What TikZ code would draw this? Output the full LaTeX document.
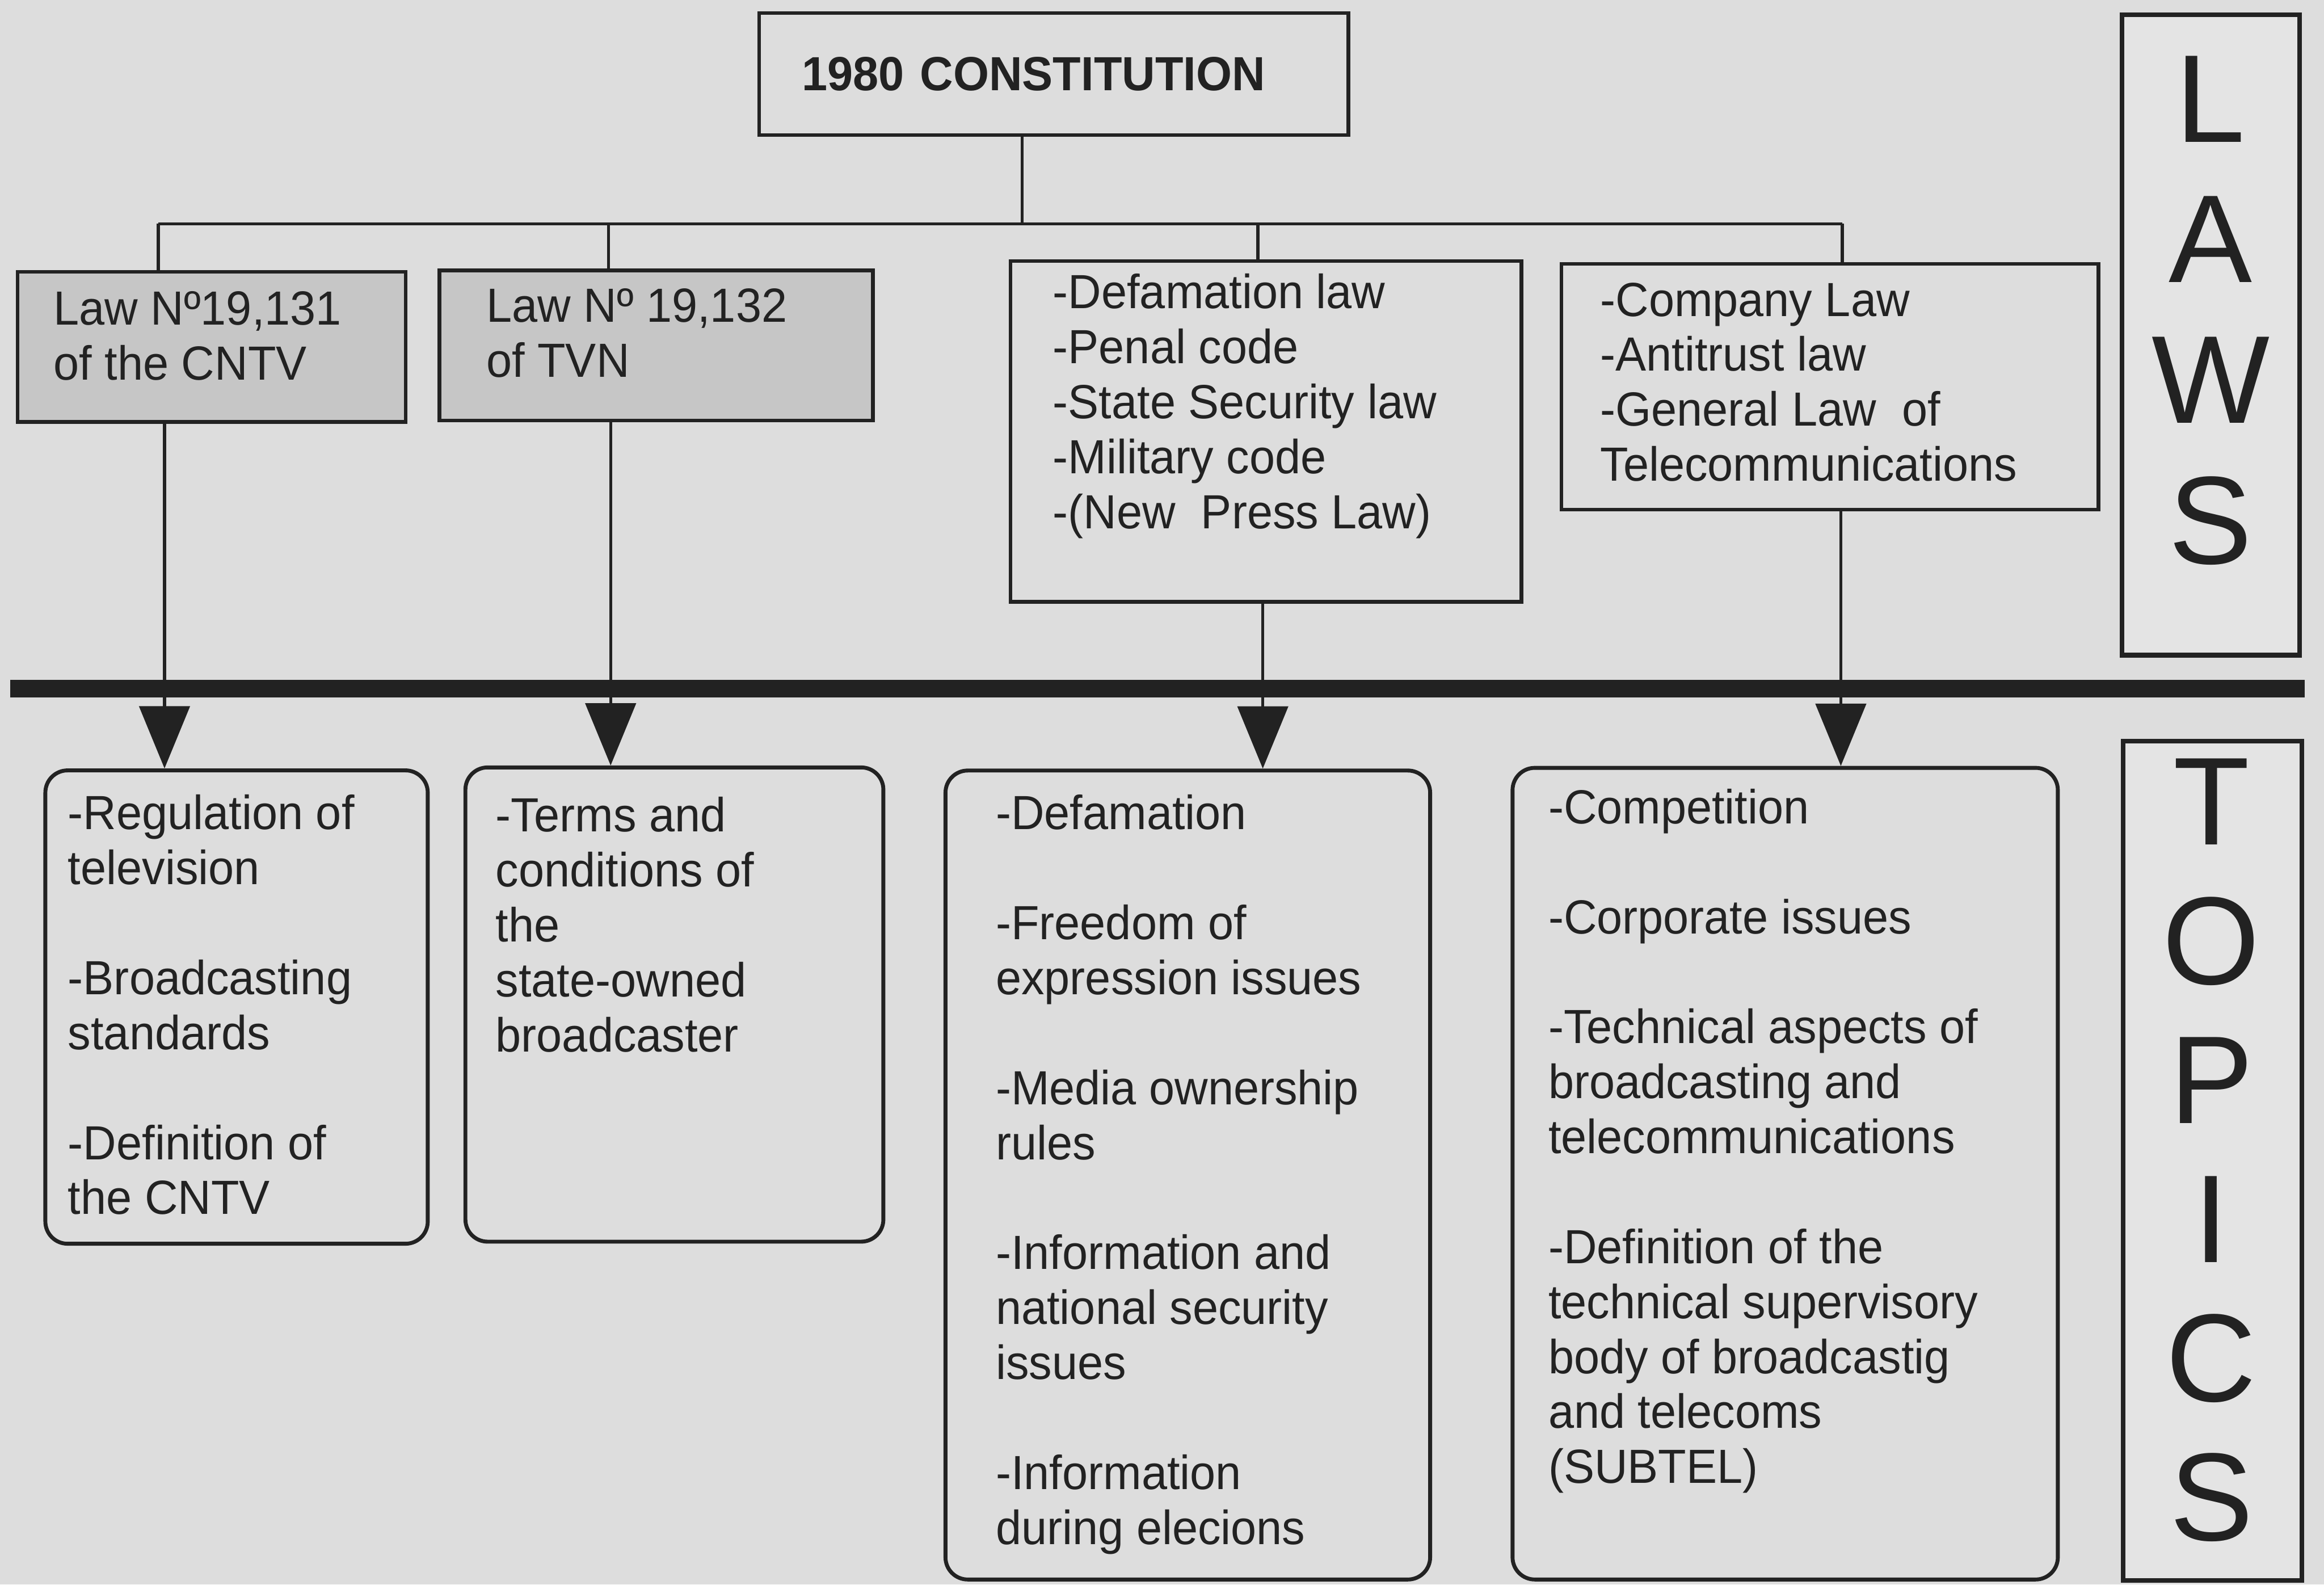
\documentclass[tikz,border=0pt]{standalone}
\usepackage{fontspec}
\setmainfont{Liberation Sans}
\newfontfamily\boxfont[FakeStretch=0.96]{Liberation Sans}
\usetikzlibrary{arrows.meta}
\definecolor{ChartBack}{HTML}{DDDDDD}
\definecolor{LawShade}{HTML}{C6C6C6}
\definecolor{TabShade}{HTML}{E4E4E4}
\definecolor{Ink}{HTML}{222222}

\begin{document}
\begin{tikzpicture}[x=1cm,y=1cm,
  lawbox/.style={draw=Ink,line width=0.7pt,inner sep=0pt},
  topicbox/.style={draw=Ink,line width=0.75pt,rounded corners=0.15cm,inner sep=0pt},
  tabbox/.style={draw=Ink,line width=0.9pt,fill=TabShade,inner sep=0pt},
  boxtext/.style={anchor=north west,align=left,inner sep=0pt,text=Ink,font=\boxfont\fontsize{9.2pt}{10.55pt}\selectfont},
  tabtext/.style={align=center,inner sep=0pt,text=Ink},
  link/.style={draw=Ink,line width=0.6pt},
  arrowlink/.style={link,-{Triangle[width=0.34cm,length=0.42cm]}}]
\fill[ChartBack] (0,0) rectangle (15.68,10.69);
\path[use as bounding box] (0,0) rectangle (15.68,10.69);
\node[lawbox,minimum width=3.975cm,minimum height=0.823cm,text width=3.4cm,align=left,inner xsep=0.28cm,text=Ink,font=\boxfont\bfseries\fontsize{9.2pt}{11pt}\selectfont] (const) at (7.11,10.19) {1980 CONSTITUTION};
\node[lawbox,fill=LawShade,minimum width=2.619cm,minimum height=1.012cm] (lcntv) at (1.4275,8.35) {};
\node[boxtext] (lcntvtxt) at (0.355,8.73) {Law Nº19,131\\of the CNTV};
\node[lawbox,fill=LawShade,minimum width=2.925cm,minimum height=1.012cm] (ltvn) at (4.4275,8.359) {};
\node[boxtext] (ltvntxt) at (3.275,8.75) {Law Nº 19,132\\of TVN};
\node[lawbox,minimum width=3.448cm,minimum height=2.298cm] (lpress) at (8.541,7.779) {};
\node[boxtext] (lpresstxt) at (7.097,8.85) {-Defamation law\\-Penal code\\-State Security law\\-Military code\\-(New\ \ Press Law)};
\node[lawbox,minimum width=3.624cm,minimum height=1.657cm] (lcomp) at (12.346,8.0815) {};
\node[boxtext] (lcomptxt) at (10.79,8.79) {-Company Law\\-Antitrust law\\-General Law\ \ of\\Telecommunications};
\node[tabbox,minimum width=1.199cm,minimum height=4.32cm] (laws) at (14.9155,8.43) {};
\node[tabtext,font=\fontsize{24pt}{27pt}\selectfont] (lawstxt) at (14.915,8.595) {L\\A\\W\\S};
\node[topicbox,minimum width=2.58cm,minimum height=3.193cm] (tcntv) at (1.596,3.8965) {};
\node[boxtext] (tcntvtxt) at (0.452,5.335) {-Regulation of\\television\\[10.55pt]-Broadcasting\\standards\\[10.55pt]-Definition of\\the CNTV};
\node[topicbox,minimum width=2.82cm,minimum height=3.199cm] (ttvn) at (4.55,3.9135) {};
\node[boxtext] (ttvntxt) at (3.338,5.32) {-Terms and\\conditions of\\the\\state-owned\\broadcaster};
\node[topicbox,minimum width=3.27cm,minimum height=5.457cm] (tpress) at (8.014,2.7635) {};
\node[boxtext] (tpresstxt) at (6.712,5.335) {-Defamation\\[10.55pt]-Freedom of\\expression issues\\[10.55pt]-Media ownership\\rules\\[10.55pt]-Information and\\national security\\issues\\[10.55pt]-Information\\during elecions};
\node[topicbox,minimum width=3.679cm,minimum height=5.475cm] (tcomp) at (12.0445,2.7725) {};
\node[boxtext] (tcomptxt) at (10.44,5.375) {-Competition\\[10.55pt]-Corporate issues\\[10.55pt]-Technical aspects of\\broadcasting and\\telecommunications\\[10.55pt]-Definition of the\\technical supervisory\\body of broadcastig\\and telecoms\\(SUBTEL)};
\node[tabbox,minimum width=1.204cm,minimum height=5.66cm] (topics) at (14.928,2.86) {};
\node[tabtext,font=\fontsize{24pt}{26.7pt}\selectfont] (topicstxt) at (14.92,2.93) {T\\O\\P\\I\\C\\S};
\coordinate (hub) at (6.897,9.18);
\coordinate (b1) at (1.068,9.18);
\coordinate (b2) at (4.105,9.18);
\coordinate (b3) at (8.486,9.18);
\coordinate (b4) at (12.43,9.18);
\draw[link] (const.south -| hub) -- (hub);
\draw[link] (b1) -- (b4);
\draw[link] (b1) -- (b1 |- lcntv.north);
\draw[link] (b2) -- (b2 |- ltvn.north);
\draw[link] (b3) -- (b3 |- lpress.north);
\draw[link] (b4) -- (b4 |- lcomp.north);
\coordinate (barL) at (0.07,6.045);
\coordinate (barR) at (15.55,6.045);
\draw[Ink,line width=0.12cm] (barL) -- (barR);
\coordinate (a1) at (1.11,6.045);
\coordinate (a2) at (4.12,6.045);
\coordinate (a3) at (8.52,6.045);
\coordinate (a4) at (12.42,6.045);
\draw[arrowlink] (a1 |- lcntv.south) -- (a1 |- tcntv.north);
\draw[arrowlink] (a2 |- ltvn.south) -- (a2 |- ttvn.north);
\draw[arrowlink] (a3 |- lpress.south) -- (a3 |- tpress.north);
\draw[arrowlink] (a4 |- lcomp.south) -- (a4 |- tcomp.north);
\end{tikzpicture}
\end{document}
